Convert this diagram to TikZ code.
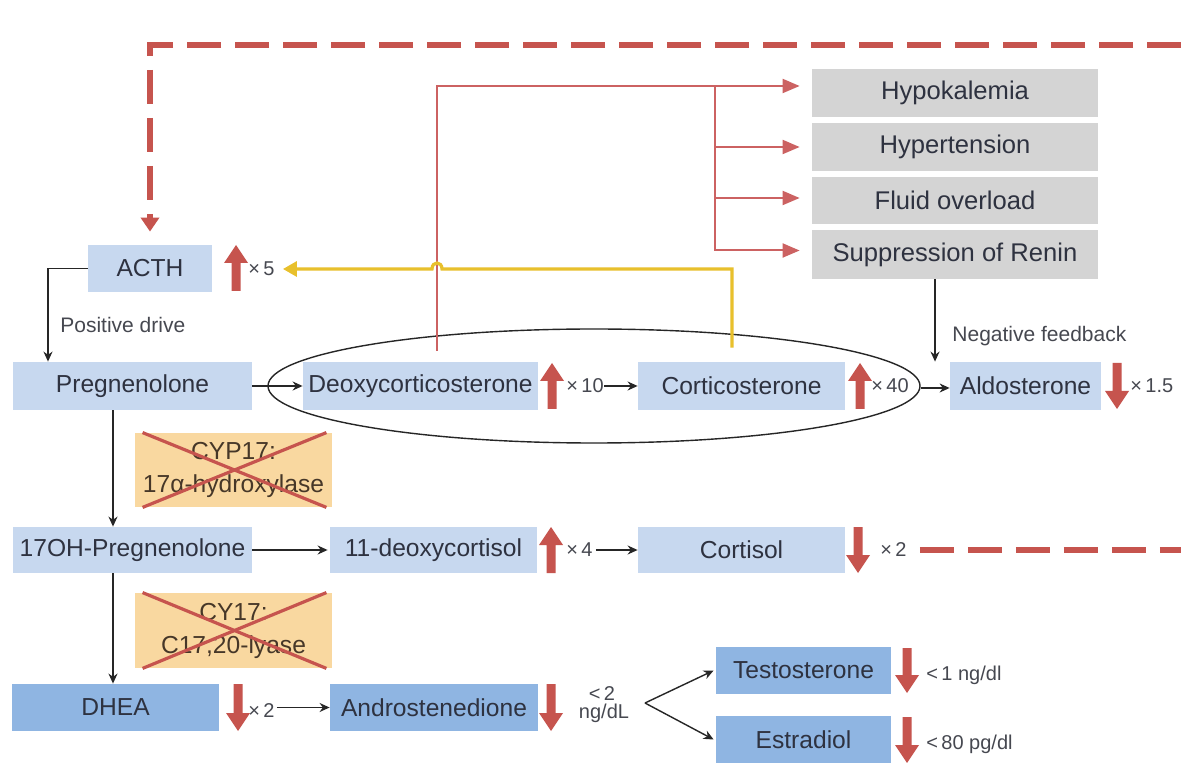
\documentclass[tikz,border=0pt]{standalone}
\usepackage{fontspec}
\setmainfont{Liberation Sans}
\usetikzlibrary{arrows.meta,calc,shapes.geometric}
\definecolor{bluebox}{RGB}{199,216,239}
\definecolor{bluedark}{RGB}{143,181,226}
\definecolor{greybox}{RGB}{212,212,212}
\definecolor{tanbox}{RGB}{249,216,160}
\definecolor{redc}{RGB}{198,84,78}
\definecolor{redl}{RGB}{204,98,98}
\definecolor{yel}{RGB}{232,192,44}
\definecolor{txt}{RGB}{46,50,64}
\definecolor{tantxt}{RGB}{70,55,40}
\definecolor{lbltxt}{RGB}{70,72,80}
\newcommand\redup[3]{\fill[redc] (#1-4.5,#3) -- (#1-4.5,#2+18) -- (#1-12,#2+18) -- (#1,#2) -- (#1+12,#2+18) -- (#1+4.5,#2+18) -- (#1+4.5,#3) -- cycle;}
\newcommand\reddn[3]{\fill[redc] (#1-4.5,#2) -- (#1-4.5,#3-18) -- (#1-12,#3-18) -- (#1,#3) -- (#1+12,#3-18) -- (#1+4.5,#3-18) -- (#1+4.5,#2) -- cycle;}
\begin{document}
\begin{tikzpicture}[x=0.5pt,y=-0.5pt,
 box/.style={fill=bluebox,text=txt,inner sep=0pt,font=\fontsize{12.3}{14}\selectfont,minimum height=23.5pt},
 dbox/.style={box,fill=bluedark},
 gbox/.style={box,fill=greybox,minimum width=143pt,minimum height=24pt,font=\fontsize{12.8}{14}\selectfont},
 tbox/.style={fill=tanbox,text=tantxt,inner sep=0pt,align=center,font=\fontsize{12.3}{16.5}\selectfont,minimum width=98.5pt,minimum height=37pt},
 lbl/.style={text=lbltxt,inner sep=0pt,font=\fontsize{10}{12}\selectfont,anchor=west},
 slbl/.style={lbl,font=\fontsize{10.5}{12}\selectfont},
 blk/.style={draw=black!85,line width=0.7pt,-{Stealth[length=5pt,width=4.5pt]}},
 redarrow/.style={draw=redl,line width=1pt,-{Triangle[length=8.5pt,width=7pt]}},
 yelarrow/.style={draw=yel,line width=1.6pt,-{Triangle[length=7pt,width=7.5pt]}},
 dashred/.style={draw=redc,line width=3pt,dash pattern=on 17pt off 7pt},
 xline/.style={draw=redc,line width=1.6pt},
 ell/.style={draw=black!85,line width=0.7pt,ellipse,minimum width=326pt,minimum height=57pt,inner sep=0pt}
]
\useasboundingbox (0,0) rectangle (1181,763);
\fill[white] (0,0) rectangle (1181,763);

% boxes
\node[box,minimum width=62pt] (ACTH) at (150,268.5) {ACTH};
\node[box,minimum width=119.5pt,minimum height=24pt] (Preg) at (132.5,386) {Pregnenolone};
\node[box,minimum width=117.5pt,minimum height=24pt] (DOC) at (420.5,386) {Deoxycorticosterone};
\node[box,minimum width=103.5pt,minimum height=24pt] (Cort) at (741.5,386) {Corticosterone};
\node[box,minimum width=75.5pt,minimum height=24pt] (Aldo) at (1025.5,386) {Aldosterone};
\node[box,minimum width=119.5pt,minimum height=23pt] (OH) at (132.5,550) {17OH-Pregnenolone};
\node[box,minimum width=103.5pt,minimum height=23pt] (Deoxy) at (433.5,550) {11-deoxycortisol};
\node[box,minimum width=103.5pt,minimum height=23pt] (Cortisol) at (741.5,550) {Cortisol};
\node[dbox,minimum width=103.5pt] (DHEA) at (115.5,707.5) {DHEA};
\node[dbox,minimum width=104pt] (Andro) at (434,707.5) {Androstenedione};
\node[dbox,minimum width=87.5pt] (Testo) at (803.5,670.5) {Testosterone};
\node[dbox,minimum width=87.5pt] (Estra) at (803.5,739.5) {Estradiol};
\node[gbox] (Hypo) at (955,93) {Hypokalemia};
\node[gbox] (Hyper) at (955,147) {Hypertension};
\node[gbox,minimum height=23.5pt] (Fluid) at (955,200.5) {Fluid overload};
\node[gbox,minimum height=24.5pt] (Supp) at (955,254.5) {Suppression of Renin};
\node[tbox] (CYPa) at (233.5,470) {CYP17:\\17α-hydroxylase};
\node[tbox,minimum height=37.5pt] (CYPb) at (233.5,630.5) {CY17:\\C17,20-lyase};

% crosses
\draw[xline] ($(CYPa.north west)+(8,0)$) -- ($(CYPa.south east)+(-6,0)$);
\draw[xline] ($(CYPa.south west)+(8,0)$) -- ($(CYPa.north east)+(-6,0)$);
\draw[xline] ($(CYPb.north west)+(8,0)$) -- ($(CYPb.south east)+(-6,0)$);
\draw[xline] ($(CYPb.south west)+(8,0)$) -- ($(CYPb.north east)+(-6,0)$);

% labels
\node[lbl] (x5) at (248,269) {×\,5};
\node[lbl] (x10) at (566,386) {×\,10};
\node[lbl] (x40) at (871,386) {×\,40};
\node[lbl] (x15) at (1130,386) {×\,1.5};
\node[lbl] (x4) at (566,550) {×\,4};
\node[lbl] (x2a) at (880,550) {×\,2};
\node[lbl] (x2b) at (248,711) {×\,2};
\node[lbl,anchor=center] (lt2) at (602,694) {<\,2};
\node[lbl,anchor=center] (ngdl) at (604,713) {ng/dL};
\node[lbl] (lt1) at (926,675) {<\,1 ng/dl};
\node[lbl] (lt80) at (926,744) {<\,80 pg/dl};
\node[slbl] (posdr) at (60,325) {Positive drive};
\node[slbl] (negfb) at (952,336) {Negative feedback};

% red up/down arrows
\redup{236}{245}{291}
\redup{552}{363}{409}
\redup{860}{363}{409}
\reddn{1117}{363}{409}
\redup{551}{527}{573}
\reddn{858}{527}{573}
\reddn{238}{684}{731}
\reddn{551}{684}{731}
\reddn{907}{648}{693}
\reddn{907}{717}{763}

% ellipse
\node[ell] (E) at (594,386) {};

% black connectors
\draw[blk] (ACTH.west) -| ($(Preg.north)+(-84.5,0)$);
\draw[blk] (Preg.east) -- (DOC.west);
\draw[blk] (x10.east) -- (Cort.west);
\draw[blk] ($(x40.east)+(12,2)$) -- ($(Aldo.west)+(0,2)$);
\coordinate (sd) at ($(Supp.south)+(-20,0)$);
\draw[blk] (sd) -- (sd |- Aldo.north);
\coordinate (pd) at ($(Preg.south)+(-19.5,0)$);
\draw[blk] (pd) -- (pd |- OH.north);
\draw[blk] (pd |- OH.south) -- (pd |- DHEA.north);
\draw[blk] (OH.east) -- ($(Deoxy.west)+(-2,0)$);
\draw[blk] ($(x4.east)+(3,0)$) -- (Cortisol.west);
\coordinate (xb) at ($(x2b.east)+(2,0)$);
\draw[blk] (xb |- Andro.west) -- (Andro.west);
\coordinate (V) at (645,703);
\draw[blk] (V) -- ($(Testo.west)+(-2,0)$);
\draw[blk] (V) -- ($(Estra.west)+(-2,0)$);

% red tree
\coordinate (docup) at ($(DOC.north)+(16.5,-11)$);
\draw[redarrow] (docup) |- ($(Hypo.west)+(-12,-7)$);
\path (Hypo.west) ++(-97,-7) coordinate (br);
\draw[redarrow] (br) |- ($(Hyper.west)+(-12,0)$);
\draw[redarrow] (br) |- ($(Fluid.west)+(-12,-2.5)$);
\draw[redarrow] (br) |- ($(Supp.west)+(-12,-4)$);

% yellow feedback
\coordinate (yc) at ($(Cort.north)+(-9.5,-14)$);
\draw[yelarrow] (yc) -- (yc |- x5.east) -- (442,269) .. controls (442,261) and (432,261) .. (432,269) -- ($(x5.east)+(8,0)$);

% dashed feedback
\coordinate (dr1) at (1181,45);
\draw[dashred,-{Triangle[length=7pt,width=9pt]}] (dr1) -- (dr1 -| ACTH.north) -- ($(ACTH.north)+(0,-13)$);
\coordinate (dr2) at (1181,550);
\draw[dashred] ($(x2a.east)+(13,0)$) -- (dr2);
\end{tikzpicture}
\end{document}
